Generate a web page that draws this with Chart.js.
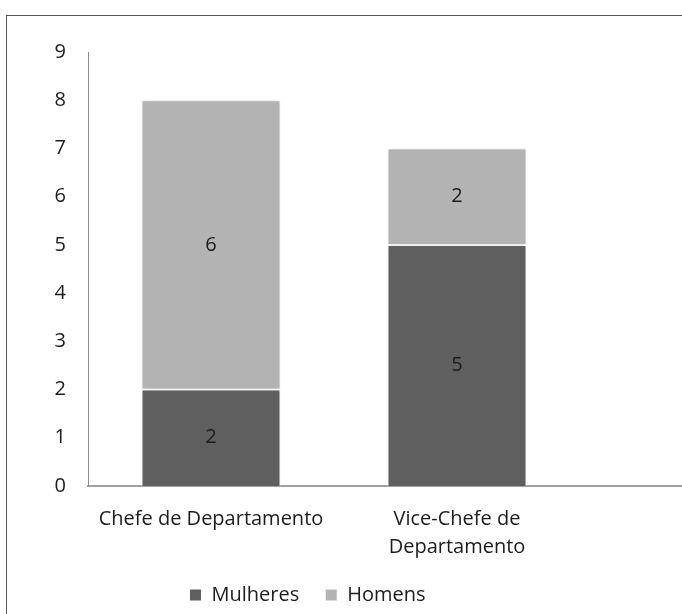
<!DOCTYPE html>
<html><head><meta charset="utf-8">
<script src="https://cdn.jsdelivr.net/npm/chart.js@4.4.0/dist/chart.umd.min.js"></script>
<style>
html,body{margin:0;padding:0;background:#fff;overflow:hidden;width:682px;height:614px;}
#frame{position:absolute;left:6px;top:15px;border:1px solid #555;width:860px;height:640px;}
canvas{display:block;}
</style></head><body>
<div id="frame"><canvas id="c" width="840" height="600"></canvas></div>
<script>
const categories = ['Chefe de Departamento', ['Vice-Chefe de', 'Departamento'], ''];
const seriesNames = ['Mulheres', 'Homens'];
const mulheres = [2, 5, null];
const homens = [6, 2, null];
const yMin = 0, yMax = 9, yStep = 1;

const FONT = 'Open Sans';
const TEXT = '#1c1c1c';
const FS = 20;

const barShadow = {
  id: 'barShadow',
  beforeDatasetsDraw(chart) { const c = chart.ctx; c.save(); c.shadowColor = 'rgba(0,0,0,0.18)'; c.shadowBlur = 5; },
  afterDatasetsDraw(chart) { chart.ctx.restore(); }
};
const valueLabels = {
  id: 'valueLabels',
  afterDatasetsDraw(chart) {
    const ctx = chart.ctx; ctx.save();
    ctx.font = FS + 'px "' + FONT + '"'; ctx.fillStyle = TEXT; ctx.textAlign = 'center'; ctx.textBaseline = 'middle';
    chart.data.datasets.forEach((ds, i) => {
      chart.getDatasetMeta(i).data.forEach((el, j) => {
        const v = ds.data[j]; if (v == null) return;
        const p = el.getProps(['x', 'y', 'base'], true);
        ctx.fillText(String(v), p.x, (p.y + p.base) / 2);
      });
    });
    ctx.restore();
  }
};
const legendPos = {
  id: 'legendPos',
  afterUpdate(chart) { const l = chart.legend; if (!l) return; l.left = 0; l.right = 601; l.width = 601; }
};

new Chart(document.getElementById('c'), {
  type: 'bar',
  data: {
    labels: categories,
    datasets: [
      { label: seriesNames[0], data: mulheres, backgroundColor: '#5f5f5f', borderColor: '#ffffff', borderWidth: 1, borderSkipped: 'bottom', barPercentage: 0.565, categoryPercentage: 1 },
      { label: seriesNames[1], data: homens, backgroundColor: '#b3b3b3', borderColor: '#ffffff', borderWidth: 1, borderSkipped: false, barPercentage: 0.565, categoryPercentage: 1 }
    ]
  },
  options: {
    responsive: false, animation: false,
    layout: { padding: { left: 0, right: 21, top: 36, bottom: 1 } },
    plugins: {
      legend: { position: 'bottom', labels: { boxWidth: 12, boxHeight: 12, padding: 26, color: TEXT, font: { family: FONT, size: FS } } },
      tooltip: { enabled: false }
    },
    scales: {
      x: {
        stacked: true,
        grid: { display: false, drawTicks: false },
        border: { display: true, color: '#a0a0a0', width: 2 },
        ticks: { padding: 19, color: TEXT, autoSkip: false, maxRotation: 0, font: { family: FONT, size: FS, lineHeight: 1.4 } },
        afterFit(s) { s.height = 73; }
      },
      y: {
        stacked: true, min: yMin, max: yMax,
        grid: { display: false, drawTicks: false },
        border: { display: true, color: '#8c8c8c', width: 1 },
        ticks: { stepSize: yStep, padding: 22, color: TEXT, font: { family: FONT, size: FS } },
        afterFit(s) { s.width = 81; }
      }
    }
  },
  plugins: [barShadow, valueLabels, legendPos]
});
</script>
</body></html>
